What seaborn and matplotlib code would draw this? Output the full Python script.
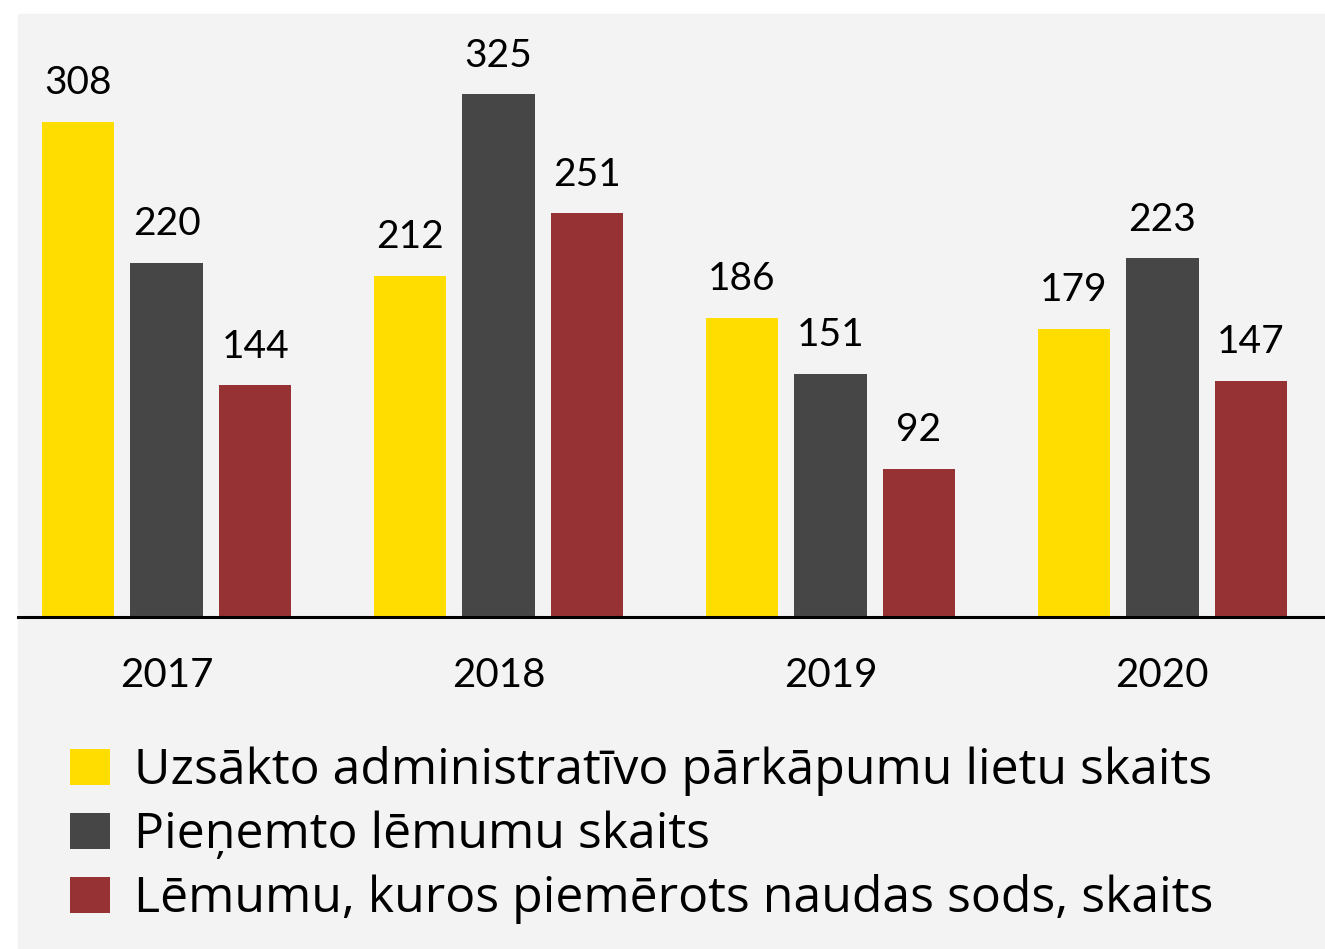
import matplotlib.pyplot as plt
import seaborn as sns
import pandas as pd
from matplotlib.patches import Rectangle

years = ["2017", "2018", "2019", "2020"]
series = [
    "Uzsākto administratīvo pārkāpumu lietu skaits",
    "Pieņemto lēmumu skaits",
    "Lēmumu, kuros piemērots naudas sods, skaits",
]
started = [308, 212, 186, 179]
decisions = [220, 325, 151, 223]
fines = [144, 251, 92, 147]
colors = ["#FFDD00", "#464646", "#973234"]

rows = []
for name, vals in zip(series, [started, decisions, fines]):
    for y, v in zip(years, vals):
        rows.append({"year": y, "series": name, "value": v})
df = pd.DataFrame(rows)

sns.set_style("white")
plt.rcParams["font.family"] = ["Lato", "DejaVu Sans"]
plt.rcParams["text.color"] = "black"
plt.rcParams["xtick.color"] = "black"

bg = "#F3F3F3"
fig = plt.figure(figsize=(13.25, 9.49), dpi=100)
fig.patches.append(Rectangle((18 / 1325, 0), 1 - 18 / 1325, 1 - 14 / 949,
                             transform=fig.transFigure, color=bg, zorder=-10))
ax = fig.add_axes([18 / 1325, 332 / 949, 1 - 18 / 1325, (617 - 14) / 949])
ax.set_facecolor(bg)

sns.barplot(data=df, x="year", y="value", hue="series", palette=colors,
            width=0.8, gap=0.18, saturation=1, linewidth=0, ax=ax)

for c in ax.containers:
    ax.bar_label(c, padding=15, fontsize=28, color="black")

ax.set_ylim(0, 375)
ax.set_xlim(-0.448, 3.49)
ax.set_xlabel("")
ax.set_ylabel("")
ax.set_yticks([])
ax.tick_params(axis="x", length=0, pad=29, labelsize=29, labelcolor="black")
for s in ["top", "right", "left"]:
    ax.spines[s].set_visible(False)
ax.spines["bottom"].set_linewidth(2.2)
ax.spines["bottom"].set_color("black")

handles, labels = ax.get_legend_handles_labels()
ax.get_legend().remove()
fig.legend(handles, labels, loc="upper left", bbox_to_anchor=(70 / 1325, 1 - 746 / 949),
           frameon=False, handlelength=0.79, handleheight=0.73,
           handletextpad=0.48, labelspacing=0.29, borderaxespad=0, borderpad=0,
           labelcolor="black",
           prop={"family": ["Open Sans", "DejaVu Sans"], "size": 36})

fig.savefig("out.png", dpi=100, facecolor="white")
